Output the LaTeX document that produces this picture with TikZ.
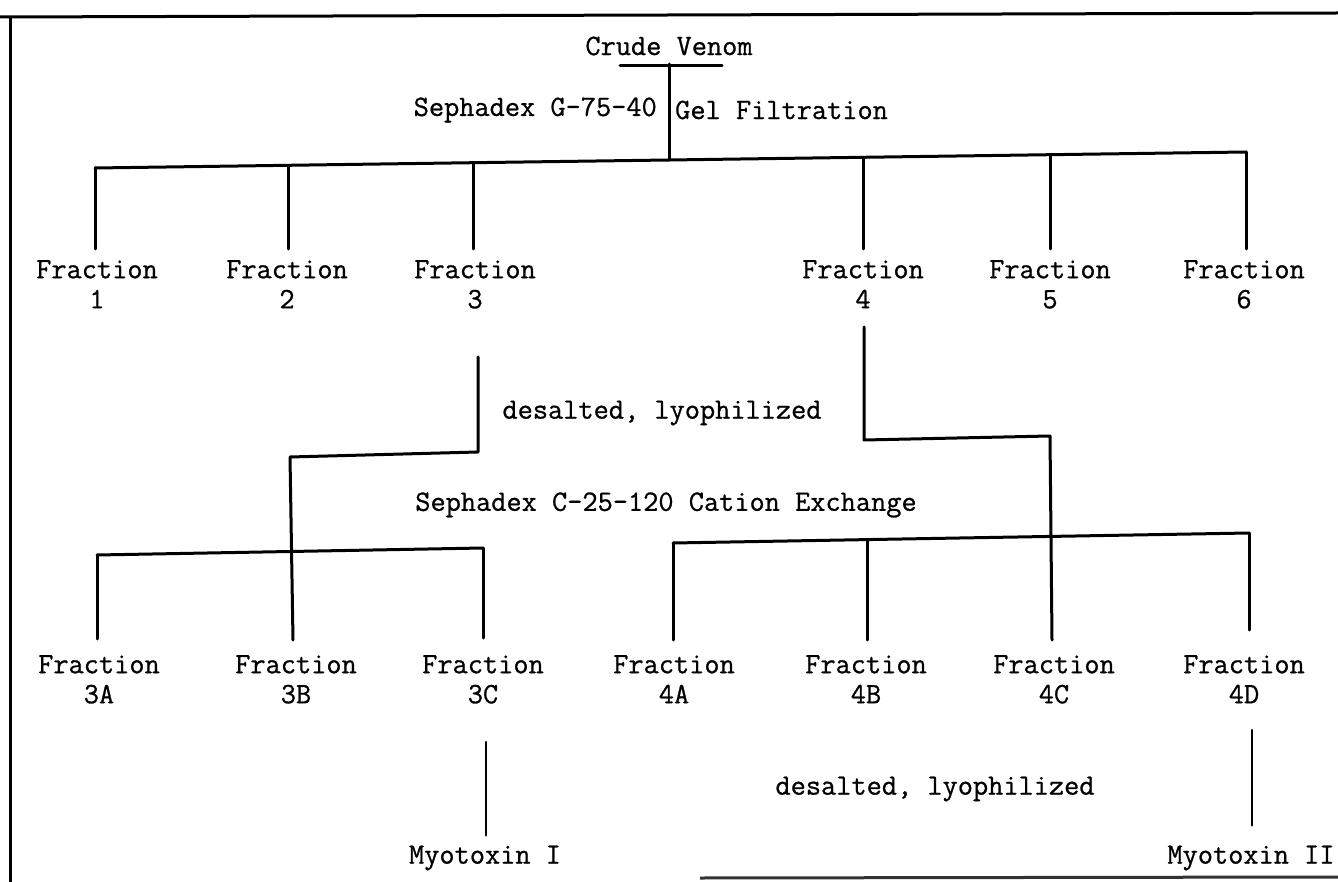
\documentclass[tikz,border=0pt]{standalone}
\usepackage{fontspec}
\newfontfamily\tw[FakeBold=0.8]{Latin Modern Mono}
\usetikzlibrary{calc}
\tikzset{
  lbl/.style={font=\tw\fontsize{29.5}{30}\selectfont, inner sep=0pt, align=center},
  ln/.style={line width=3pt, line cap=round, line join=round},
  frame/.style={line width=3pt}
}
\begin{document}
\begin{tikzpicture}[x=1pt,y=-1pt]
\useasboundingbox (0,0) rectangle (1338,882);
% frame
\draw[frame] (0,17) -- (1338,13);
\draw[frame] (10,16) -- (10,882);
\draw[frame, black!80] (700,878) -- (1338,877);

% top
\node[lbl] (cv) at (669,46) {Crude Venom};
\coordinate (cvbl) at (620,66);
\coordinate (cvbr) at (722,66);
\coordinate (cvb) at (669,64);
\draw[ln] (cvbl) -- (cvbr);
\node[lbl, anchor=east] (g75) at (657,110) {Sephadex G-75-40};
\node[lbl, anchor=west] (gelf) at (675,110) {Gel Filtration};

% first level bar
\coordinate (b1) at (95,168);
\coordinate (b2) at (288,165.3);
\coordinate (b3) at (473,162.7);
\coordinate (b0) at (669,160);
\coordinate (b4) at (863,157.3);
\coordinate (b5) at (1050,154.7);
\coordinate (b6) at (1246,152);
\draw[ln] (cvb) -- (b0);
\draw[ln] (b1) -- (b2) -- (b3) -- (b0) -- (b4) -- (b5) -- (b6);

\node[lbl, anchor=north] (f1) at (97,260) {Fraction\\1};
\node[lbl, anchor=north] (f2) at (287,260) {Fraction\\2};
\node[lbl, anchor=north] (f3) at (475,260) {Fraction\\3};
\node[lbl, anchor=north] (f4) at (863,260) {Fraction\\4};
\node[lbl, anchor=north] (f5) at (1050,260) {Fraction\\5};
\node[lbl, anchor=north] (f6) at (1244,260) {Fraction\\6};
\foreach \i in {1,...,6}{
  \draw[ln] (b\i) -- ($(b\i |- f\i.north)+(0,-11)$);
}

% desalted 1 / cation exchange
\node[lbl] (ds1) at (662,413) {desalted, lyophilized};
\node[lbl] (cat) at (666,505) {Sephadex C-25-120 Cation Exchange};

% lower labels
\node[lbl, anchor=north] (f3a) at (99,655) {Fraction\\3A};
\node[lbl, anchor=north] (f3b) at (296,655) {Fraction\\3B};
\node[lbl, anchor=north] (f3c) at (483,655) {Fraction\\3C};
\node[lbl, anchor=north] (f4a) at (674,655) {Fraction\\4A};
\node[lbl, anchor=north] (f4b) at (866,655) {Fraction\\4B};
\node[lbl, anchor=north] (f4c) at (1054,655) {Fraction\\4C};
\node[lbl, anchor=north] (f4d) at (1244,655) {Fraction\\4D};

% fraction 3 path to 3B
\coordinate (p3a) at (478,357);
\coordinate (p3b) at (478,452);
\coordinate (p3c) at (290,457);
\draw[ln] (p3a) -- (p3b) -- (p3c) -- ($(f3b.north)+(-3,-15)$);

% fraction 4 path to 4C
\coordinate (p4a) at (864,327);
\coordinate (p4b) at (864,440);
\coordinate (p4c) at (1050,436);
\draw[ln] (p4a) -- (p4b) -- (p4c) -- ($(f4c.north)+(-2,-15)$);

% lower left bar
\coordinate (l1) at (97,555);
\coordinate (l3) at (483,548);
\draw[ln] (l1) -- (l3);
\draw[ln] (l1) -- ($(l1 |- f3a.north)+(0,-16)$);
\draw[ln] (l3) -- ($(l3 |- f3c.north)+(0,-17)$);

% lower right bar
\coordinate (r1) at (673,543);
\coordinate (r2) at (867,539.6);
\coordinate (r4) at (1249,533);
\draw[ln] (r1) -- (r2) -- (r4);
\draw[ln] (r1) -- ($(r1 |- f4a.north)+(0,-15)$);
\draw[ln] (r2) -- ($(r2 |- f4b.north)+(0,-15)$);
\draw[ln] (r4) -- ($(r4 |- f4d.north)+(0,-25)$);

% myotoxins
\node[lbl] (m1) at (485,858) {Myotoxin I};
\node[lbl] (m2) at (1251,858) {Myotoxin II};
\node[lbl] (ds2) at (935,789) {desalted, lyophilized};
\coordinate (m1t) at (486,742);
\coordinate (m2t) at (1252,730);
\draw[ln, line width=2.4pt] (m1t) -- ($(m1.north)+(1,-10)$);
\draw[ln, line width=2.4pt] (m2t) -- ($(m2.north)+(1,-20)$);
\end{tikzpicture}
\end{document}
